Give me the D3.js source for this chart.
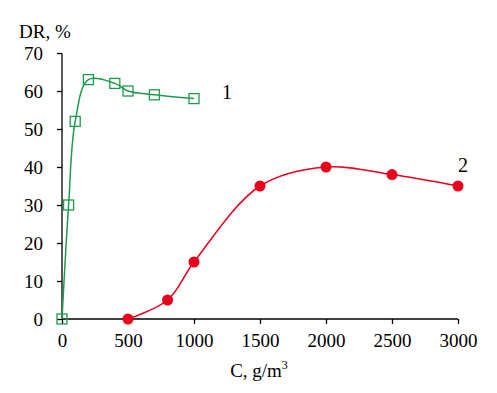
<!DOCTYPE html>
<html><head><meta charset="utf-8">
<script src="https://cdn.jsdelivr.net/npm/d3@7"></script>
<style>body{margin:0;background:#fff}svg{display:block}text{font-family:"Liberation Serif","Times New Roman",serif;fill:#000}</style>
</head><body>
<script>
const series1X = [0, 50, 100, 200, 400, 500, 700, 1000];
const series1Y = [0, 30, 52, 63, 62, 60, 59, 58];
const series2X = [500, 800, 1000, 1500, 2000, 2500, 3000];
const series2Y = [0, 5, 15, 35, 40, 38, 35];
const xTicks = [0, 500, 1000, 1500, 2000, 2500, 3000];
const yTicks = [0, 10, 20, 30, 40, 50, 60, 70];

const W = 497, H = 393;
const svg = d3.select("body").append("svg").attr("width", W).attr("height", H);
const x = d3.scaleLinear().domain([0, 3000]).range([62, 458]);
const y = d3.scaleLinear().domain([0, 70]).range([319, 53]);

// axes
const xa = svg.append("g").attr("transform", `translate(0,${y(0)})`)
  .call(d3.axisBottom(x).tickValues(xTicks).tickSize(5).tickPadding(10).tickFormat(d3.format("d")));
const ya = svg.append("g").attr("transform", `translate(${x(0)},0)`)
  .call(d3.axisLeft(y).tickValues(yTicks).tickSize(5).tickPadding(14));
[xa, ya].forEach(a => {
  a.select(".domain").attr("stroke", "#000").attr("stroke-width", 1.3);
  a.selectAll(".tick line").attr("stroke", "#000").attr("stroke-width", 1.3);
  a.selectAll(".tick text").style("font-size", "19px").style("font-family", "Liberation Serif");
});
xa.select(".domain").attr("d", `M${x(0)},0H${x(3000)}`);
ya.select(".domain").attr("d", `M0,${y(70)}V${y(0)}`);

const line = d3.line().x(d => x(d[0])).y(d => y(d[1])).curve(d3.curveCatmullRom.alpha(0.5));

const d1 = series1X.map((v, i) => [v, series1Y[i]]);
const d2 = series2X.map((v, i) => [v, series2Y[i]]);
const green = "#1f9a4e", red = "#e8001c";

svg.append("path").datum(d1).attr("d", line).attr("fill", "none").attr("stroke", green).attr("stroke-width", 1.5);
svg.append("path").datum(d2).attr("d", line).attr("fill", "none").attr("stroke", red).attr("stroke-width", 1.5);

svg.selectAll(".sq").data(d1).enter().append("rect")
  .attr("x", d => x(d[0]) - 5).attr("y", d => y(d[1]) - 5).attr("width", 10).attr("height", 10)
  .attr("fill", "none").attr("stroke", green).attr("stroke-width", 1.3);
svg.selectAll(".dot").data(d2).enter().append("circle")
  .attr("cx", d => x(d[0])).attr("cy", d => y(d[1])).attr("r", 5.5).attr("fill", red);

svg.append("text").attr("x", 222).attr("y", 99).style("font-size", "20px").text("1");
svg.append("text").attr("x", 458).attr("y", 172).style("font-size", "20px").text("2");
svg.append("text").attr("x", 19).attr("y", 38).style("font-size", "19px").text("DR, %");
const xl = svg.append("text").attr("x", 259).attr("y", 377).attr("text-anchor", "middle").style("font-size", "19px");
xl.append("tspan").text("C, g/m");
xl.append("tspan").attr("dy", -8).style("font-size", "12px").text("3");
</script>
</body></html>
